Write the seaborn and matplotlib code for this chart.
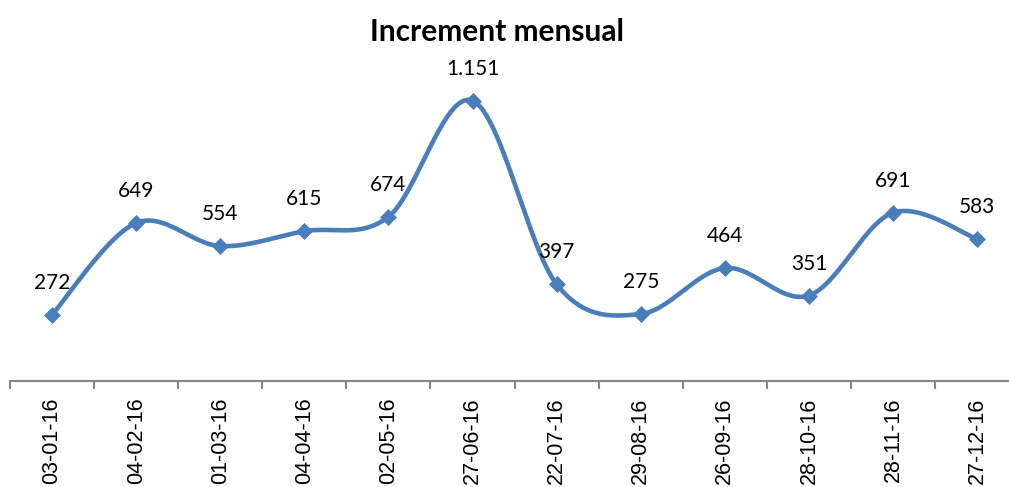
import numpy as np
import pandas as pd
import matplotlib
matplotlib.use("Agg")
import matplotlib.pyplot as plt
import seaborn as sns

# ========== DATA ==========
dates = ["03-01-16", "04-02-16", "01-03-16", "04-04-16", "02-05-16", "27-06-16",
         "22-07-16", "29-08-16", "26-09-16", "28-10-16", "28-11-16", "27-12-16"]
increments = [272, 649, 554, 615, 674, 1151, 397, 275, 464, 351, 691, 583]
labels = ["272", "649", "554", "615", "674", "1.151", "397", "275", "464", "351", "691", "583"]

sns.set_style("white")
plt.rcParams["font.family"] = ["Lato", "DejaVu Sans"]

BLUE = "#4a7ebb"

df = pd.DataFrame({"pos": np.arange(len(dates)), "value": increments})

# ========== SMOOTH CURVE (Excel-style Bezier) ==========
# work in roughly screen units so the smoothing looks like Excel's
sx, sy = 84.1, 0.2435
px = df["pos"].to_numpy() * sx
py = df["value"].to_numpy() * sy
pts = np.column_stack([px, py])
curve = []
t = np.linspace(0, 1, 30)
for i in range(len(pts) - 1):
    p0 = pts[max(i - 1, 0)]
    p1 = pts[i]
    p2 = pts[i + 1]
    p3 = pts[min(i + 2, len(pts) - 1)]
    c1 = p1 + (p2 - p0) / 6
    c2 = p2 - (p3 - p1) / 6
    seg = ((1 - t) ** 3)[:, None] * p1 + (3 * (1 - t) ** 2 * t)[:, None] * c1 \
        + (3 * (1 - t) * t ** 2)[:, None] * c2 + (t ** 3)[:, None] * p2
    curve.append(seg if i == 0 else seg[1:])
curve = np.vstack(curve)
smooth = pd.DataFrame({"x": curve[:, 0] / sx, "y": curve[:, 1] / sy})

# ========== PLOT ==========
fig = plt.figure(figsize=(10.09, 4.87), dpi=100)
ax = fig.add_axes([10 / 1009, (487 - 381) / 487, 1 - 10 / 1009, (381 - 40) / 487])

sns.lineplot(data=smooth, x="x", y="y", sort=False, color=BLUE, linewidth=3.3, ax=ax)
sns.scatterplot(data=df, x="pos", y="value", marker="D", s=75, color=BLUE,
                edgecolor=BLUE, linewidth=0, zorder=3, ax=ax)

for x, y, lab in zip(df["pos"], df["value"], labels):
    ax.annotate(lab, (x, y), xytext=(0, 23), textcoords="offset points",
                ha="center", va="center", fontsize=15, color="black")

ax.set_xticks(df["pos"])
ax.set_xticklabels(dates, rotation=90, fontsize=15.5, family="Liberation Sans", color="black")
ax.set_xticks(np.arange(-0.5, len(dates) - 1, 1), minor=True)
ax.tick_params(axis="x", which="major", length=0, pad=12)
ax.tick_params(axis="x", which="minor", length=6, width=1.5, color="#868686", bottom=True)
ax.set_yticks([])
ax.set_xlabel("")
ax.set_ylabel("")

# limits last, set_xticks can widen them
ax.set_xlim(-0.5, (1009 - 52) / sx)
ax.set_ylim(0, 1400)

for side in ["top", "right", "left"]:
    ax.spines[side].set_visible(False)
ax.spines["bottom"].set_color("#868686")
ax.spines["bottom"].set_linewidth(1.5)

fig.text(497 / 1009, 1 - 32 / 487, "Increment mensual", ha="center", va="center",
         fontsize=21.5, fontweight="bold", color="black")

fig.savefig("out.png", dpi=100)
